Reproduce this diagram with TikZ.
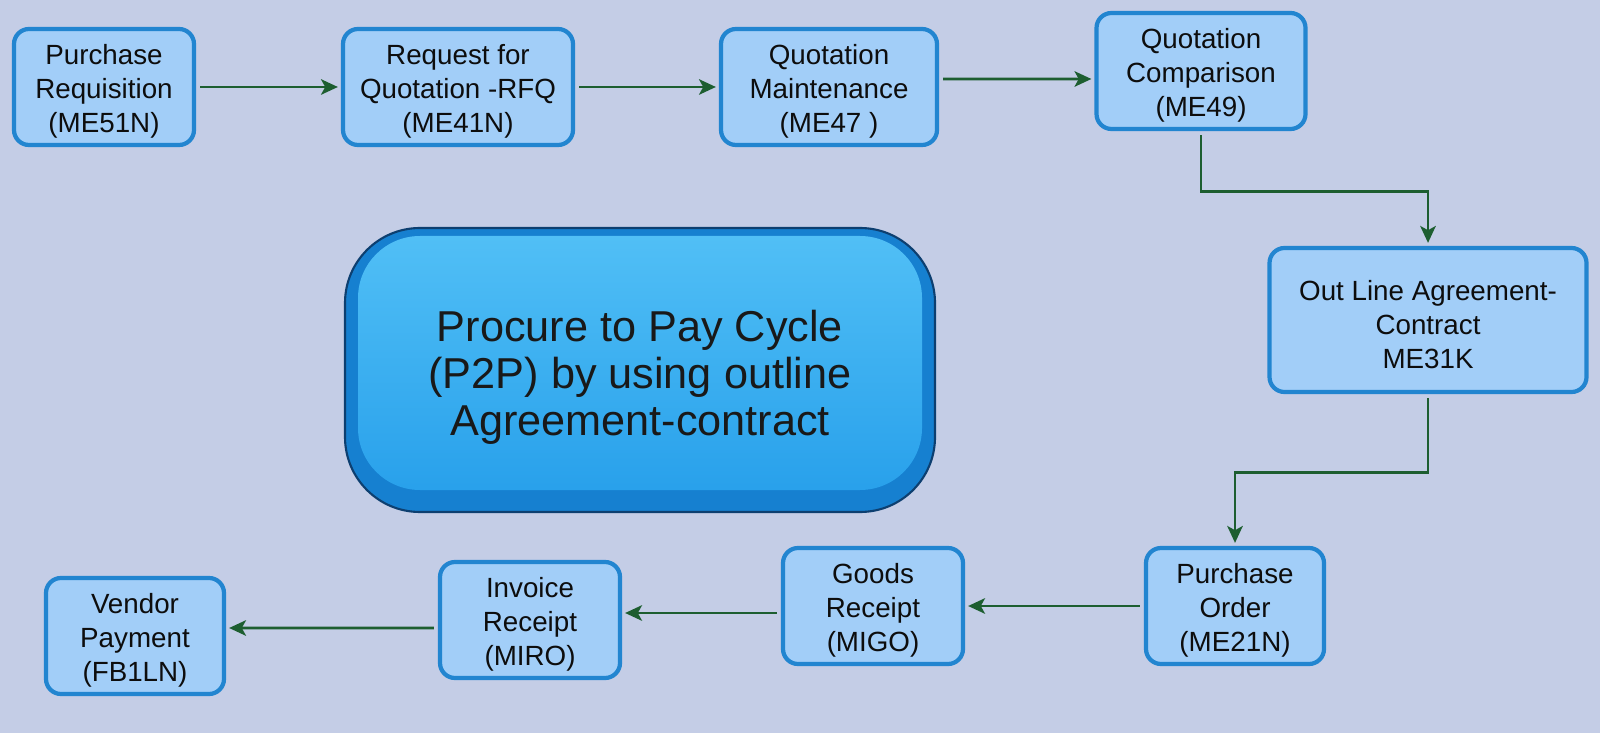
\documentclass[tikz,border=0pt]{standalone}
\usepackage{fontspec}
\setmainfont{Liberation Sans}
\usetikzlibrary{arrows.meta}

\definecolor{backcol}{HTML}{C4CDE6}
\definecolor{boxfill}{HTML}{A2CEF8}
\definecolor{boxline}{HTML}{2285D0}
\definecolor{arrcol}{HTML}{1D5E30}
\definecolor{btnrim}{HTML}{1680D0}
\definecolor{btnline}{HTML}{0D3F70}
\definecolor{btntop}{HTML}{52C0F6}
\definecolor{btnbot}{HTML}{259EEA}

% raises the first line so the text sits a little lower in its box
\newcommand\txtlift{\rule{0pt}{1.05em}}

\begin{document}
\begin{tikzpicture}[
  step box/.style={rectangle,rounded corners=0.15cm,draw=boxline,line width=1.2pt,fill=boxfill,
    align=center,text=black!95,font=\fontsize{7.9}{9.7}\selectfont,minimum height=1.16cm,inner ysep=1pt},
  flow/.style={draw=arrcol,line width=0.8pt,-{Stealth[length=4.8pt,width=4.4pt,inset=1.2pt]},shorten >=0.03cm,shorten <=0.04cm},
  button/.style={rectangle,rounded corners=0.75cm,minimum width=5.9cm,minimum height=2.84cm,
    fill=btnrim,draw=btnline,line width=0.6pt,align=center,text=black!90,
    font=\fontsize{12.3}{13.4}\selectfont,
    path picture={\fill[top color=btntop,bottom color=btnbot,rounded corners=0.62cm]
      ([xshift=0.13cm,yshift=0.22cm]path picture bounding box.south west) rectangle
      ([xshift=-0.13cm,yshift=-0.08cm]path picture bounding box.north east);}}
]
\fill[backcol] (0,0) rectangle (16,7.33);

\node[step box,minimum width=1.80cm] (1) at (1.04,6.46)  {\txtlift Purchase\\Requisition\\(ME51N)};
\node[step box,minimum width=2.30cm] (2) at (4.58,6.46)  {\txtlift Request for\\Quotation -RFQ\\(ME41N)};
\node[step box,minimum width=2.16cm] (3) at (8.29,6.46)  {\txtlift Quotation\\Maintenance\\(ME47 )};
\node[step box,minimum width=2.09cm] (4) at (12.01,6.62) {\txtlift Quotation\\Comparison\\(ME49)};
\node[step box,minimum width=3.17cm,minimum height=1.44cm] (5) at (14.28,4.13) {\txtlift Out Line Agreement-\\Contract\\ME31K};
\node[step box,minimum width=1.78cm] (6) at (12.35,1.27) {\txtlift Purchase\\Order\\(ME21N)};
\node[step box,minimum width=1.80cm] (7) at (8.73,1.27)  {\txtlift Goods\\Receipt\\(MIGO)};
\node[step box,minimum width=1.80cm] (8) at (5.30,1.13)  {\txtlift Invoice\\Receipt\\(MIRO)};
\node[step box,minimum width=1.78cm] (9) at (1.35,0.97)  {\txtlift Vendor\\Payment\\(FB1LN)};

\node[button] (0) at (6.40,3.63) {\txtlift Procure to Pay Cycle\\(P2P) by using outline\\ Agreement-contract};

\draw[flow] (1.east) -- (2.west);
\draw[flow] (2.east) -- (3.west);
\draw[flow] ([yshift=0.8mm]3.east) -- ([yshift=-0.8mm]4.west);
\draw[flow] (4.south) -- ++(0,-0.6) -| (5.north);
\draw[flow] (5.south) -- ++(0,-0.78) -| (6.north);
\draw[flow] (6.west) -- (7.east);
\draw[flow] ([yshift=-0.7mm]7.west) -- ([yshift=0.7mm]8.east);
\draw[flow] ([yshift=-0.8mm]8.west) -- ([yshift=0.8mm]9.east);

\end{tikzpicture}
\end{document}
